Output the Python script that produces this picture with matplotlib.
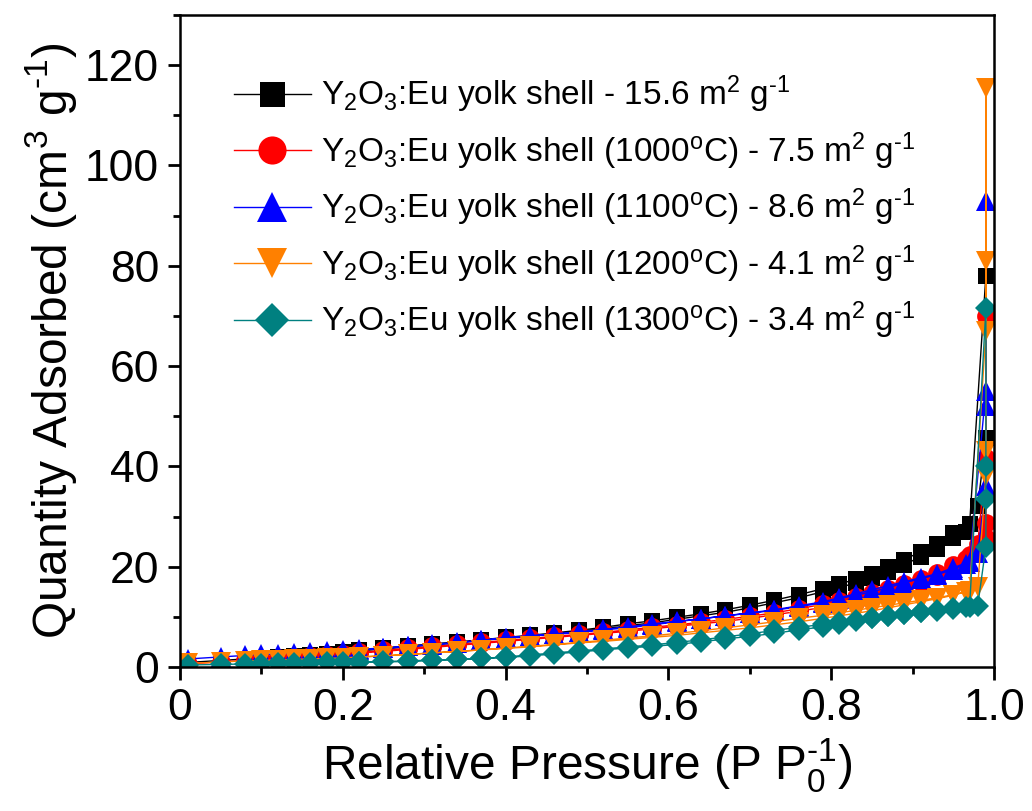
import matplotlib
matplotlib.use("Agg")
import matplotlib.pyplot as plt
from matplotlib.ticker import MultipleLocator

plt.rcParams['font.family'] = ['Liberation Sans', 'DejaVu Sans']
plt.rcParams['mathtext.fontset'] = 'custom'
plt.rcParams['mathtext.rm'] = 'Liberation Sans'
plt.rcParams['mathtext.it'] = 'Liberation Sans'
plt.rcParams['mathtext.default'] = 'regular'

# pressao relativa dos ramos de adsorcao e dessorcao
ads_p = [0.01, 0.05, 0.08, 0.10, 0.12, 0.14, 0.16, 0.18, 0.20, 0.22, 0.25, 0.28, 0.31,
         0.34, 0.37, 0.40, 0.43, 0.46, 0.49, 0.52, 0.55, 0.58, 0.61, 0.64, 0.67, 0.70,
         0.73, 0.76, 0.79, 0.81, 0.83, 0.85, 0.87, 0.89, 0.91, 0.93, 0.95, 0.965, 0.98]
spike_p = 0.99
des_p = [0.97, 0.95, 0.93, 0.91, 0.89, 0.87, 0.85, 0.83, 0.81, 0.79, 0.76, 0.73, 0.70,
         0.67, 0.64, 0.61, 0.58, 0.55, 0.52, 0.49, 0.46, 0.43, 0.40, 0.37, 0.34, 0.31,
         0.28, 0.25, 0.22]

labels = [
    r'Y$_2$O$_3$:Eu yolk shell - 15.6 m$^2$ g$^{\text{-1}}$',
    r'Y$_2$O$_3$:Eu yolk shell (1000$^o$C) - 7.5 m$^2$ g$^{\text{-1}}$',
    r'Y$_2$O$_3$:Eu yolk shell (1100$^o$C) - 8.6 m$^2$ g$^{\text{-1}}$',
    r'Y$_2$O$_3$:Eu yolk shell (1200$^o$C) - 4.1 m$^2$ g$^{\text{-1}}$',
    r'Y$_2$O$_3$:Eu yolk shell (1300$^o$C) - 3.4 m$^2$ g$^{\text{-1}}$',
]

ads_asis = [0.9, 1.3, 1.6, 1.8, 2.0, 2.2, 2.4, 2.6, 2.9, 3.2, 3.6, 4.0, 4.4, 4.8, 5.3, 5.7,
            6.1, 6.6, 7.0, 7.6, 8.2, 8.8, 9.5, 10.2, 10.9, 11.8, 12.8, 13.8, 15.0, 15.8,
            16.8, 17.8, 19.0, 20.4, 22.0, 23.6, 25.8, 27.0, 32.0]
spike_asis = [45.7, 78.0]
des_asis = [28.5, 26.8, 24.6, 23.0, 21.4, 19.9, 18.6, 17.5, 16.5, 15.6, 14.4, 13.3, 12.3,
            11.4, 10.6, 9.9, 9.2, 8.6, 7.9, 7.3, 6.8, 6.3, 5.9, 5.4, 5.0, 4.6, 4.2, 3.8, 3.4]

ads_1000 = [0.6, 1.0, 1.3, 1.5, 1.7, 1.9, 2.1, 2.3, 2.5, 2.8, 3.1, 3.5, 3.9, 4.3, 4.7, 5.1,
            5.5, 5.9, 6.3, 6.7, 7.1, 7.6, 8.1, 8.6, 9.1, 9.7, 10.4, 11.1, 11.9, 12.5,
            13.2, 14.0, 14.9, 15.9, 17.0, 18.2, 19.5, 21.5, 24.5]
spike_1000 = [41.7, 70.0, 28.7, 25.7]
des_1000 = [22.4, 20.3, 18.8, 17.6, 16.6, 15.6, 14.8, 14.0, 13.2, 12.5, 11.6, 10.8, 10.1,
            9.5, 8.9, 8.4, 7.9, 7.4, 6.9, 6.5, 6.1, 5.7, 5.3, 4.9, 4.5, 4.1, 3.7, 3.3, 2.9]

ads_1100 = [1.6, 2.0, 2.3, 2.5, 2.6, 2.8, 3.0, 3.1, 3.3, 3.5, 3.8, 4.1, 4.4, 4.8, 5.3, 5.8,
            6.2, 6.5, 6.9, 7.4, 7.8, 8.4, 9.0, 9.6, 10.2, 10.7, 11.3, 12.0, 12.8, 13.6,
            14.3, 15.0, 15.8, 16.8, 17.6, 18.4, 19.4, 20.6, 22.7]
spike_1100 = [36.0, 52.0, 93.0, 55.0]
des_1100 = [21.0, 19.8, 18.6, 17.8, 17.0, 16.2, 15.4, 14.6, 13.8, 13.0, 12.2, 11.4, 10.8,
            10.2, 9.6, 9.1, 8.6, 8.0, 7.5, 7.0, 6.6, 6.2, 5.8, 5.3, 4.9, 4.5, 4.1, 3.7, 3.4]

ads_1200 = [0.7, 1.0, 1.2, 1.3, 1.4, 1.5, 1.6, 1.7, 1.8, 2.0, 2.2, 2.5, 2.8, 3.1, 3.4, 3.7,
            4.0, 4.4, 4.8, 5.1, 5.5, 5.9, 6.3, 6.8, 7.3, 7.8, 8.4, 9.0, 9.7, 10.2, 10.7,
            11.2, 11.8, 12.4, 13.0, 13.6, 14.3, 15.0, 16.0]
spike_1200 = [38.0, 43.0, 115.5, 81.0, 67.0]
des_1200 = [15.2, 14.4, 13.8, 13.3, 12.8, 12.3, 11.8, 11.3, 10.8, 10.3, 9.7, 9.0, 8.4, 7.8,
            7.2, 6.7, 6.2, 5.8, 5.3, 4.9, 4.5, 4.1, 3.8, 3.4, 3.1, 2.8, 2.5, 2.2, 2.0]

ads_1300 = [0.4, 0.5, 0.6, 0.6, 0.7, 0.7, 0.8, 0.9, 1.0, 1.0, 1.1, 1.2, 1.4, 1.5, 1.7, 1.9,
            2.2, 2.6, 3.0, 3.4, 3.8, 4.1, 4.5, 5.0, 5.6, 6.1, 6.7, 7.4, 8.0, 8.6, 9.2, 9.8,
            10.2, 10.6, 11.0, 11.4, 11.8, 12.0, 12.2]
spike_1300 = [24.0, 33.5, 40.0, 71.5]
des_1300 = [12.0, 11.6, 11.2, 10.9, 10.5, 10.1, 9.7, 9.3, 8.9, 8.5, 7.9, 7.3, 6.6, 6.0, 5.4,
            4.9, 4.4, 4.0, 3.6, 3.2, 2.8, 2.4, 2.0, 1.7, 1.5, 1.3, 1.1, 1.0, 0.9]

series = [
    (ads_asis, spike_asis, des_asis, 'black', 's', 12),
    (ads_1000, spike_1000, des_1000, '#ff0000', 'o', 13.5),
    (ads_1100, spike_1100, des_1100, '#0000ff', '^', 14),
    (ads_1200, spike_1200, des_1200, '#ff8000', 'v', 14),
    (ads_1300, spike_1300, des_1300, '#008080', 'D', 11.5),
]

fig = plt.figure(figsize=(10.32, 8.11), dpi=100)
ax = fig.add_axes([0.1744, 0.1776, 0.7888, 0.8039])

for (ads, spk, des, cor, mk, ms), lab in zip(series, labels):
    x = ads_p + [spike_p] * len(spk) + des_p
    y = ads + spk + des
    ax.plot(x, y, color=cor, marker=mk, markersize=ms, linewidth=1.0,
            markeredgewidth=0, label=lab)

ax.set_xlim(0, 1.0)
ax.set_ylim(0, 130)
ax.xaxis.set_major_locator(MultipleLocator(0.2))
ax.xaxis.set_minor_locator(MultipleLocator(0.1))
ax.yaxis.set_major_locator(MultipleLocator(20))
ax.yaxis.set_minor_locator(MultipleLocator(10))
ax.set_xticks([0, 0.2, 0.4, 0.6, 0.8, 1.0])
ax.set_xticklabels(['0', '0.2', '0.4', '0.6', '0.8', '1.0'])

ax.tick_params(which='both', direction='out', width=2, labelsize=32, top=False, right=False)
ax.tick_params(which='major', length=9, pad=6)
ax.tick_params(which='minor', length=5)
for s in ax.spines.values():
    s.set_linewidth(1.8)

ax.set_xlabel(r'Relative Pressure (P P$_0^{\text{-1}}$)', fontsize=34.5, labelpad=6)
ax.set_ylabel(r'Quantity Adsorbed (cm$^3$ g$^{\text{-1}}$)', fontsize=34.5, labelpad=4)

ax.legend(loc='upper left', bbox_to_anchor=(0.05, 0.93), frameon=False, fontsize=24,
          markerscale=1.5, handlelength=2.3, handletextpad=0.3, labelspacing=0.45,
          borderaxespad=0)

plt.savefig('out.png', dpi=100)
